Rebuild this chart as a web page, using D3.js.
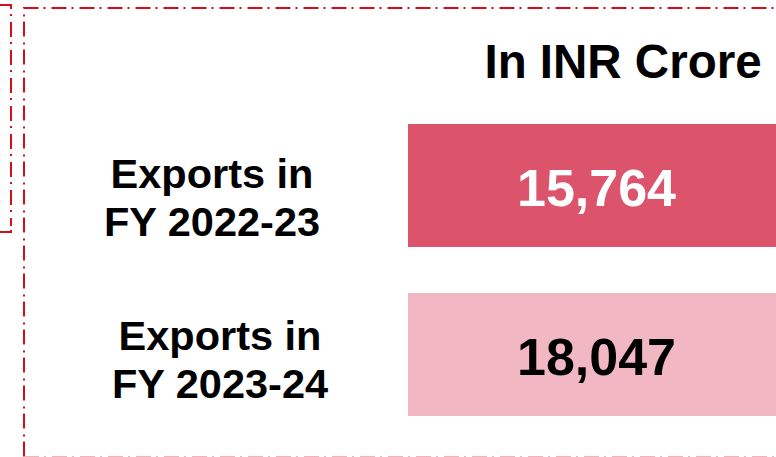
<!DOCTYPE html>
<html>
<head>
<meta charset="utf-8">
<script src="https://cdn.jsdelivr.net/npm/d3@7"></script>
<style>
  html, body { margin: 0; padding: 0; background: #fff; }
  svg { display: block; font-family: "Liberation Sans", Arial, sans-serif; font-weight: bold; }
</style>
</head>
<body>
<svg width="776" height="457"></svg>
<script>
// Data
const categories = ['FY 2022-23', 'FY 2023-24'];
const labelLines = [['Exports in', 'FY 2022-23'], ['Exports in', 'FY 2023-24']];
const values = [15764, 18047];
const unitLabel = 'In INR Crore';

// Styles / layout
const barColors = ['#dc546b', '#f1b8c3'];
const valueColors = ['#ffffff', '#000000'];
const labelX = [212, 220];
const labelBaseline = [64, 57];
const frameColor = '#d2101c';
const dash = '15,5,2,6';

const svg = d3.select('svg');
const width = +svg.attr('width');
const height = +svg.attr('height');

const y = d3.scaleBand()
  .domain(categories)
  .range([124, 416])
  .paddingInner(46 / 169)
  .paddingOuter(0);

const x = d3.scaleLinear().domain([0, 1]).range([408, 785]);
const fmt = d3.format(',');

// Dashed frames
const frames = svg.append('g')
  .attr('fill', 'none')
  .attr('stroke', frameColor)
  .attr('stroke-width', 2)
  .attr('stroke-dasharray', dash);

// outer (cut off at the left)
frames.append('path')
  .attr('d', 'M-20,5 H11 V226')
  .attr('stroke-dashoffset', 8);
frames.append('path')
  .attr('d', 'M-2,232 H11 V226')
  .attr('stroke-dasharray', null);

// inner (cut off at the right and bottom)
frames.append('path')
  .attr('d', `M24,456.5 V8 H${width + 20}`)
  .attr('stroke-dashoffset', 0);
frames.append('path')
  .attr('d', `M24,457.2 H${width + 20}`)
  .attr('stroke', '#ef9aa0');

// Unit label
svg.append('text')
  .attr('x', 623)
  .attr('y', 78)
  .attr('text-anchor', 'middle')
  .attr('font-size', 47.5)
  .attr('fill', '#000')
  .text(unitLabel);

const rows = svg.append('g')
  .selectAll('.row')
  .data(categories)
  .enter()
  .append('g')
  .attr('class', 'row');

rows.append('rect')
  .attr('x', x(0))
  .attr('y', d => y(d))
  .attr('width', x(1) - x(0))
  .attr('height', y.bandwidth())
  .attr('fill', (d, i) => barColors[i]);

rows.append('text')
  .attr('x', (x(0) + x(1)) / 2)
  .attr('y', d => y(d) + 82)
  .attr('text-anchor', 'middle')
  .attr('font-size', 52)
  .attr('fill', (d, i) => valueColors[i])
  .text((d, i) => fmt(values[i]));

rows.append('text')
  .attr('text-anchor', 'middle')
  .attr('font-size', 41.5)
  .attr('fill', '#000')
  .each(function (d, i) {
    const t = d3.select(this);
    labelLines[i].forEach((line, j) => {
      t.append('tspan')
        .attr('x', labelX[i])
        .attr('y', y(d) + labelBaseline[i] + j * 48)
        .text(line);
    });
  });
</script>
</body>
</html>
